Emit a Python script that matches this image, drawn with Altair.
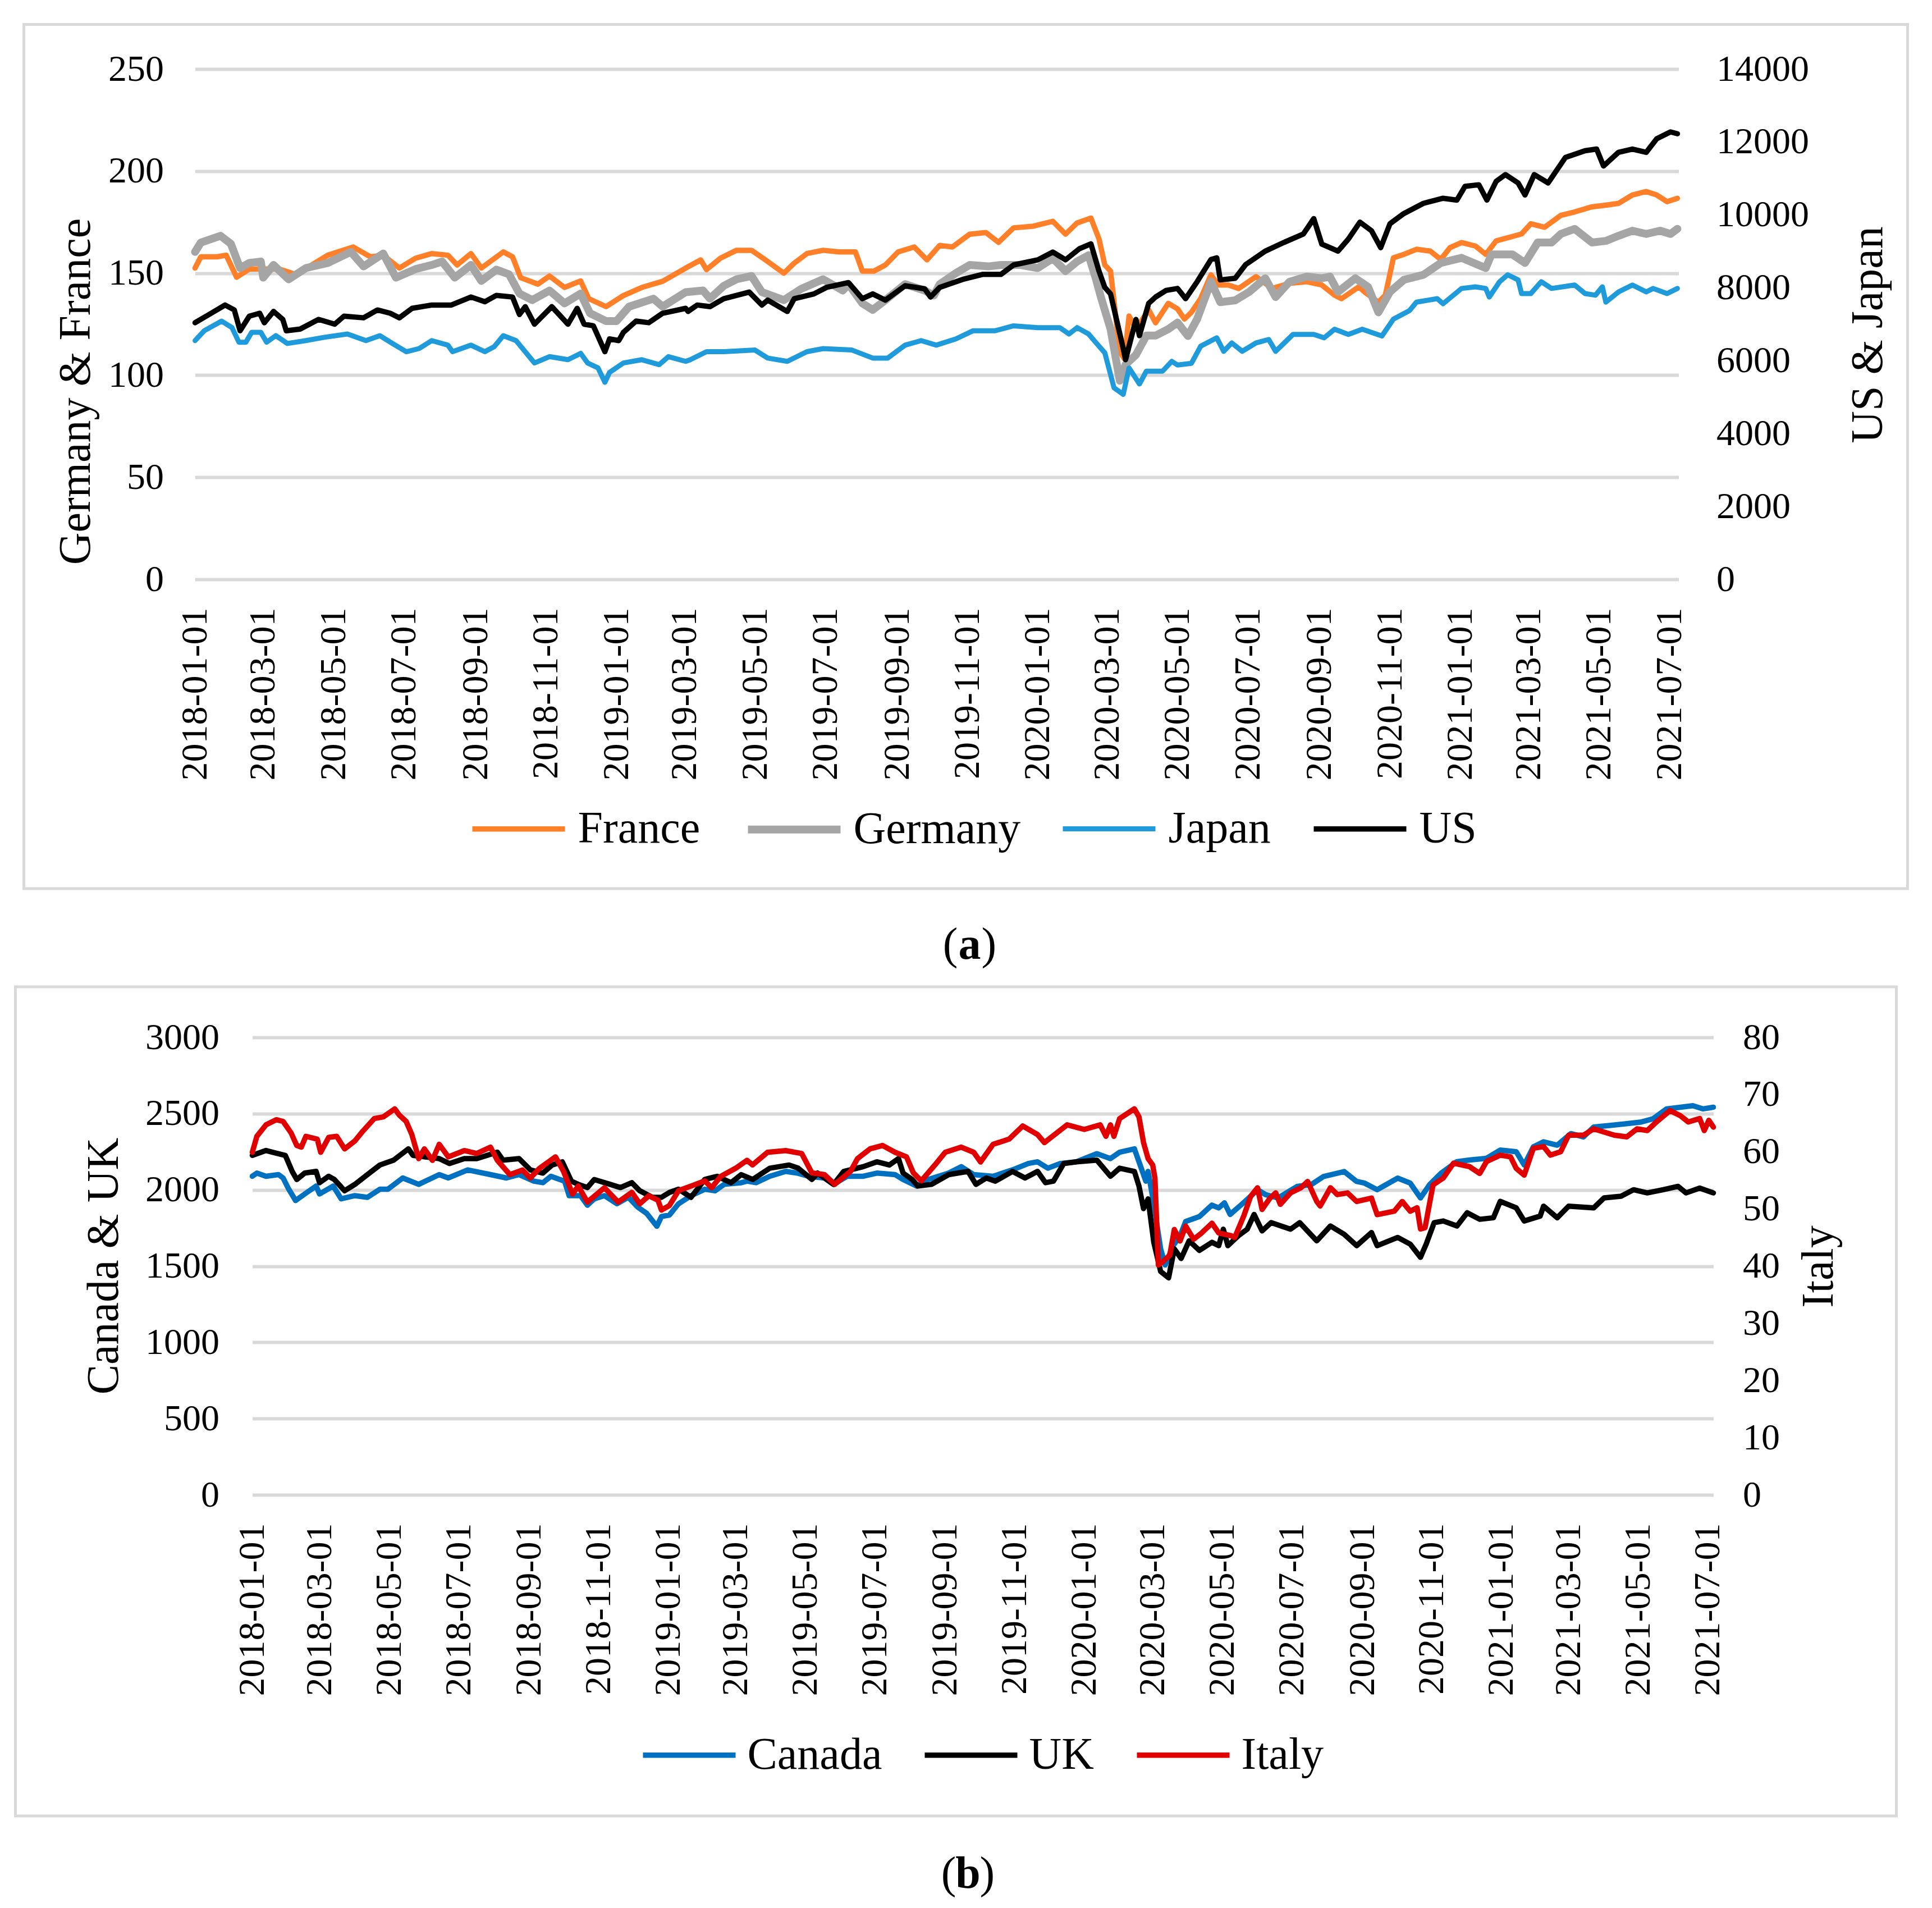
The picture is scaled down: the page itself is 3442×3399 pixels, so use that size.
import altair as alt
import pandas as pd

FONT = "Liberation Serif"

# ---------------- Panel (a) data ----------------
FRANCE = [("2018-01-01",152.5),("2018-01-06",158),("2018-01-20",158),("2018-01-28",158.8),("2018-02-06",148),("2018-02-17",152),("2018-03-01",152),("2018-03-15",152),("2018-03-29",149.4),("2018-04-12",154),("2018-04-26",158.8),("2018-05-18",162.8),("2018-06-02",158),("2018-06-13",158.8),("2018-06-27",152.5),("2018-07-11",157.3),("2018-07-25",159.6),("2018-08-08",158.8),("2018-08-16",154),("2018-08-28",159.6),("2018-09-06",152.5),("2018-09-25",160.4),("2018-10-03",158),("2018-10-10",147.8),("2018-10-25",144.6),("2018-11-04",148.6),("2018-11-17",143),("2018-12-01",146.2),("2018-12-08",137.5),("2018-12-23",133.6),("2019-01-07",139),("2019-01-23",143),("2019-02-10",146),("2019-03-02",152.5),("2019-03-15",156.5),("2019-03-20",151.7),("2019-04-01",157.3),("2019-04-15",161.2),("2019-04-28",161.2),("2019-05-10",156.5),("2019-05-26",150),("2019-06-04",154.9),("2019-06-15",159.6),("2019-06-29",161.2),("2019-07-13",160.4),("2019-07-27",160.4),("2019-08-02",151),("2019-08-12",151),("2019-08-22",154),("2019-09-02",160.4),("2019-09-16",162.8),("2019-09-27",156.5),("2019-10-08",163.6),("2019-10-19",162.8),("2019-11-03",169.1),("2019-11-17",169.9),("2019-11-28",165.1),("2019-12-11",172.2),("2019-12-28",173),("2020-01-14",175.4),("2020-01-25",169.1),("2020-02-04",174.6),("2020-02-16",177),("2020-02-23",166.7),("2020-02-28",154),("2020-03-04",151),("2020-03-12",111.5),("2020-03-16",108),("2020-03-20",129),("2020-03-26",122.6),("2020-04-06",132),("2020-04-12",125.7),("2020-04-23",135.2),("2020-05-01",132.5),("2020-05-07",127.5),("2020-05-13",130.8),("2020-05-21",137.5),("2020-05-30",149.2),("2020-06-05",144.2),("2020-06-14",144.2),("2020-06-23",142.5),("2020-07-08",148.3),("2020-07-22",142.5),("2020-08-06",145),("2020-08-21",145.8),("2020-09-03",144.2),("2020-09-14",139.2),("2020-09-20",137.5),("2020-10-05",143.3),("2020-10-10",140.8),("2020-10-22",135.8),("2020-10-28",139.2),("2020-11-04",157.5),("2020-11-13",159.2),("2020-11-24",161.7),("2020-12-06",160.8),("2020-12-15",156.7),("2020-12-23",162.5),("2021-01-02",165),("2021-01-14",163.3),("2021-01-23",159.2),("2021-02-01",165.8),("2021-02-12",167.5),("2021-02-23",169.2),("2021-03-03",174.2),("2021-03-15",172.5),("2021-03-29",178.3),("2021-04-10",180),("2021-04-25",182.5),("2021-05-07",183.3),("2021-05-18",184.2),("2021-05-30",188.3),("2021-06-11",190),("2021-06-20",188.3),("2021-06-29",185),("2021-07-08",186.7)]

GERMANY = [("2018-01-01",160.4),("2018-01-06",165),("2018-01-23",168.3),("2018-02-01",164.4),("2018-02-09",152.5),("2018-02-17",155),("2018-02-27",155.7),("2018-03-01",147.8),("2018-03-10",154),("2018-03-23",147),("2018-04-07",152.5),("2018-04-26",155),("2018-05-16",160.4),("2018-05-27",153.3),("2018-06-13",159.6),("2018-06-24",147.8),("2018-07-11",152),("2018-07-25",154),("2018-08-03",155.7),("2018-08-14",147.8),("2018-08-28",154),("2018-09-06",146.2),("2018-09-19",151.7),("2018-09-30",149.4),("2018-10-09",140),("2018-10-20",136.8),("2018-11-04",141.5),("2018-11-17",135.2),("2018-12-01",140),("2018-12-09",130.4),("2018-12-23",126.5),("2019-01-01",126.5),("2019-01-12",133.6),("2019-02-02",137.5),("2019-02-10",133.6),("2019-03-02",140.7),("2019-03-17",141.5),("2019-03-23",137.5),("2019-04-04",143.8),("2019-04-15",147),("2019-04-28",148.6),("2019-05-07",140.7),("2019-05-26",136.8),("2019-06-10",142.3),("2019-06-29",147),("2019-07-16",141.5),("2019-07-21",144.6),("2019-08-02",135.2),("2019-08-11",132),("2019-08-22",136.8),("2019-09-08",144.6),("2019-09-25",141.5),("2019-10-03",139.1),("2019-10-08",144.6),("2019-10-22",150),("2019-11-03",154),("2019-11-19",153.3),("2019-11-30",154),("2019-12-17",154),("2020-01-01",152.5),("2020-01-14",157.3),("2020-01-25",151),("2020-02-04",155.7),("2020-02-14",158.8),("2020-02-20",147.8),("2020-02-25",137.5),("2020-03-04",122.6),("2020-03-12",97.3),("2020-03-17",105.2),("2020-03-26",110),("2020-04-04",119.4),("2020-04-12",119.4),("2020-04-23",122.6),("2020-05-01",125.8),("2020-05-10",119.2),("2020-05-18",127.5),("2020-05-30",145.8),("2020-06-07",135.8),("2020-06-20",136.7),("2020-07-02",140.8),("2020-07-16",147.5),("2020-07-25",138.3),("2020-08-06",145.8),("2020-08-21",148.3),("2020-09-03",147.5),("2020-09-10",148.3),("2020-09-17",140.8),("2020-10-02",147.5),("2020-10-13",143.3),("2020-10-22",130.8),("2020-11-01",140.8),("2020-11-13",146.7),("2020-11-30",149.2),("2020-12-15",155),("2021-01-02",157.5),("2021-01-23",152.5),("2021-01-28",159.2),("2021-02-15",159.2),("2021-02-26",155),("2021-03-09",165),("2021-03-21",165),("2021-03-29",169.2),("2021-04-10",171.7),("2021-04-25",165),("2021-05-07",165.8),("2021-05-18",168.3),("2021-05-30",170.8),("2021-06-11",169.2),("2021-06-23",170.8),("2021-07-02",169.2),("2021-07-08",171.7)]

JAPAN = [("2018-01-01",6550),("2018-01-09",6820),("2018-01-24",7085),("2018-02-02",6905),("2018-02-08",6505),("2018-02-14",6505),("2018-02-19",6775),("2018-02-27",6775),("2018-03-04",6505),("2018-03-12",6685),("2018-03-22",6470),("2018-04-07",6550),("2018-04-23",6640),("2018-05-13",6730),("2018-05-29",6550),("2018-06-10",6685),("2018-06-21",6470),("2018-07-03",6245),("2018-07-14",6330),("2018-07-25",6550),("2018-08-08",6425),("2018-08-12",6245),("2018-08-28",6425),("2018-09-09",6245),("2018-09-17",6380),("2018-09-25",6685),("2018-10-06",6550),("2018-10-14",6245),("2018-10-22",5935),("2018-11-04",6110),("2018-11-20",6025),("2018-12-01",6200),("2018-12-07",5935),("2018-12-16",5800),("2018-12-22",5405),("2018-12-26",5675),("2019-01-07",5935),("2019-01-23",6025),("2019-02-07",5890),("2019-02-15",6110),("2019-03-02",5980),("2019-03-06",6025),("2019-03-20",6245),("2019-04-04",6245),("2019-05-01",6290),("2019-05-12",6070),("2019-05-29",5980),("2019-06-15",6245),("2019-06-29",6330),("2019-07-24",6290),("2019-08-11",6070),("2019-08-24",6070),("2019-09-08",6425),("2019-09-22",6550),("2019-10-05",6425),("2019-10-22",6595),("2019-11-06",6820),("2019-11-25",6820),("2019-12-11",6955),("2020-01-01",6905),("2020-01-20",6905),("2020-01-28",6730),("2020-02-04",6905),("2020-02-14",6730),("2020-02-20",6505),("2020-02-28",6215),("2020-03-07",5255),("2020-03-15",5075),("2020-03-20",5800),("2020-03-29",5360),("2020-04-04",5710),("2020-04-18",5710),("2020-04-26",5980),("2020-05-01",5880),("2020-05-13",5925),("2020-05-21",6395),("2020-06-04",6625),("2020-06-10",6255),("2020-06-17",6485),("2020-06-26",6255),("2020-07-08",6485),("2020-07-19",6580),("2020-07-25",6255),("2020-08-09",6720),("2020-08-27",6720),("2020-09-05",6625),("2020-09-14",6860),("2020-09-26",6720),("2020-10-08",6860),("2020-10-25",6675),("2020-11-04",7140),("2020-11-18",7375),("2020-11-24",7605),("2020-12-12",7700),("2020-12-17",7560),("2021-01-02",7980),("2021-01-14",8025),("2021-01-23",7980),("2021-01-26",7745),("2021-02-04",8165),("2021-02-11",8355),("2021-02-20",8215),("2021-02-23",7840),("2021-03-03",7840),("2021-03-12",8165),("2021-03-21",7980),("2021-04-10",8075),("2021-04-19",7840),("2021-04-28",7795),("2021-05-04",8025),("2021-05-07",7605),("2021-05-18",7885),("2021-05-30",8075),("2021-06-11",7885),("2021-06-17",7980),("2021-06-29",7840),("2021-07-08",7980)]

US = [("2018-01-01",7040),("2018-01-15",7300),("2018-01-27",7525),("2018-02-04",7390),("2018-02-09",6820),("2018-02-17",7220),("2018-02-26",7300),("2018-03-02",7040),("2018-03-10",7350),("2018-03-18",7130),("2018-03-21",6820),("2018-04-02",6865),("2018-04-18",7130),("2018-05-02",7000),("2018-05-10",7220),("2018-05-27",7175),("2018-06-08",7390),("2018-06-19",7300),("2018-06-27",7175),("2018-07-08",7435),("2018-07-25",7525),("2018-08-11",7525),("2018-08-28",7745),("2018-09-09",7615),("2018-09-19",7790),("2018-10-03",7745),("2018-10-09",7265),("2018-10-14",7480),("2018-10-22",7000),("2018-11-06",7480),("2018-11-20",7000),("2018-11-28",7435),("2018-12-04",7000),("2018-12-12",6955),("2018-12-22",6245),("2018-12-26",6595),("2019-01-03",6550),("2019-01-07",6775),("2019-01-18",7085),("2019-01-29",7040),("2019-02-10",7300),("2019-03-02",7435),("2019-03-04",7350),("2019-03-12",7525),("2019-03-23",7480),("2019-04-04",7700),("2019-04-26",7880),("2019-05-07",7525),("2019-05-12",7660),("2019-05-29",7350),("2019-06-04",7700),("2019-06-21",7830),("2019-07-02",8010),("2019-07-21",8140),("2019-08-02",7700),("2019-08-11",7830),("2019-08-22",7660),("2019-09-08",8055),("2019-09-25",7970),("2019-09-30",7745),("2019-10-08",8010),("2019-10-28",8230),("2019-11-14",8365),("2019-11-30",8365),("2019-12-11",8625),("2020-01-01",8765),("2020-01-14",8980),("2020-01-25",8765),("2020-02-06",9070),("2020-02-16",9205),("2020-02-23",8455),("2020-02-28",8010),("2020-03-04",7830),("2020-03-15",6330),("2020-03-17",6025),("2020-03-26",7130),("2020-03-29",6685),("2020-04-06",7570),("2020-04-12",7745),("2020-04-21",7925),("2020-05-01",7980),("2020-05-08",7700),("2020-05-18",8165),("2020-05-30",8775),("2020-06-04",8820),("2020-06-07",8215),("2020-06-20",8260),("2020-06-29",8635),("2020-07-16",9005),("2020-08-01",9240),("2020-08-18",9475),("2020-08-27",9895),("2020-09-03",9195),("2020-09-17",9005),("2020-09-26",9335),("2020-10-06",9800),("2020-10-16",9565),("2020-10-24",9100),("2020-11-01",9755),("2020-11-13",10035),("2020-11-30",10315),("2020-12-17",10455),("2020-12-29",10405),("2021-01-05",10780),("2021-01-17",10825),("2021-01-24",10405),("2021-02-01",10920),("2021-02-09",11105),("2021-02-20",10875),("2021-02-26",10545),("2021-03-06",11105),("2021-03-18",10875),("2021-04-02",11575),("2021-04-19",11760),("2021-04-29",11805),("2021-05-05",11340),("2021-05-18",11715),("2021-05-30",11805),("2021-06-11",11715),("2021-06-20",12085),("2021-07-02",12275),("2021-07-08",12225)]

# ---------------- Panel (b) data ----------------
CANADA = [("2018-01-01",2089),("2018-01-05",2110),("2018-01-13",2089),("2018-01-24",2100),("2018-01-28",2078),("2018-02-02",2004),("2018-02-08",1930),("2018-02-16",1973),("2018-02-26",2025),("2018-03-01",1973),("2018-03-13",2025),("2018-03-20",1941),("2018-04-01",1962),("2018-04-12",1951),("2018-04-23",2004),("2018-04-30",2004),("2018-05-13",2078),("2018-05-27",2036),("2018-06-14",2100),("2018-06-22",2078),("2018-07-09",2131),("2018-07-29",2100),("2018-08-12",2078),("2018-08-23",2100),("2018-09-05",2057),("2018-09-13",2047),("2018-09-20",2089),("2018-10-02",2057),("2018-10-06",1962),("2018-10-16",1962),("2018-10-22",1899),("2018-10-28",1941),("2018-11-06",1962),("2018-11-17",1909),("2018-11-27",1951),("2018-12-05",1888),("2018-12-13",1846),("2018-12-22",1761),("2018-12-26",1825),("2019-01-02",1835),("2019-01-10",1909),("2019-01-21",1962),("2019-02-02",2004),("2019-02-11",1994),("2019-02-19",2036),("2019-03-06",2047),("2019-03-11",2057),("2019-03-19",2047),("2019-03-31",2089),("2019-04-14",2121),("2019-04-24",2110),("2019-05-04",2089),("2019-05-18",2078),("2019-05-26",2036),("2019-06-07",2089),("2019-06-21",2089),("2019-07-03",2110),("2019-07-19",2100),("2019-07-26",2068),("2019-08-07",2025),("2019-08-17",2068),("2019-09-04",2110),("2019-09-15",2152),("2019-09-26",2100),("2019-10-13",2089),("2019-10-30",2131),("2019-11-13",2173),("2019-11-21",2184),("2019-11-30",2142),("2019-12-11",2173),("2019-12-25",2184),("2020-01-12",2237),("2020-01-24",2205),("2020-02-01",2247),("2020-02-14",2269),("2020-02-19",2163),("2020-02-24",2057),("2020-02-26",2121),("2020-03-02",1909),("2020-03-08",1613),("2020-03-12",1508),("2020-03-19",1634),("2020-03-25",1698),("2020-03-30",1793),("2020-04-11",1825),("2020-04-22",1900),("2020-04-28",1882),("2020-05-03",1915),("2020-05-08",1839),("2020-05-18",1904),("2020-05-26",1958),("2020-06-01",2001),("2020-06-08",1969),("2020-06-19",1947),("2020-07-06",2023),("2020-07-18",2034),("2020-07-29",2088),("2020-08-16",2120),("2020-08-27",2055),("2020-09-03",2044),("2020-09-14",2001),("2020-10-02",2077),("2020-10-13",2044),("2020-10-22",1947),("2020-10-30",2034),("2020-11-09",2109),("2020-11-23",2185),("2020-12-04",2196),("2020-12-19",2207),("2020-12-31",2261),("2021-01-14",2250),("2021-01-21",2163),("2021-01-29",2282),("2021-02-07",2315),("2021-02-19",2293),("2021-03-03",2369),("2021-03-14",2347),("2021-03-23",2412),("2021-04-07",2423),("2021-04-21",2434),("2021-05-03",2444),("2021-05-14",2466),("2021-05-26",2531),("2021-06-07",2542),("2021-06-18",2552),("2021-06-27",2531),("2021-07-06",2542)]

UK = [("2018-01-01",2226),("2018-01-13",2258),("2018-01-24",2237),("2018-01-30",2226),("2018-02-05",2121),("2018-02-09",2068),("2018-02-16",2110),("2018-02-26",2121),("2018-03-01",2047),("2018-03-09",2089),("2018-03-14",2068),("2018-03-23",1994),("2018-04-01",2036),("2018-04-12",2100),("2018-04-23",2163),("2018-05-05",2195),("2018-05-18",2269),("2018-05-22",2226),("2018-06-02",2216),("2018-06-14",2205),("2018-06-23",2173),("2018-07-06",2205),("2018-07-17",2205),("2018-08-04",2247),("2018-08-09",2195),("2018-08-23",2205),("2018-09-02",2131),("2018-09-13",2110),("2018-09-21",2163),("2018-09-30",2184),("2018-10-08",2057),("2018-10-14",2036),("2018-10-22",2015),("2018-10-28",2068),("2018-11-11",2036),("2018-11-20",2015),("2018-11-30",2047),("2018-12-07",1994),("2018-12-18",1951),("2018-12-26",1951),("2019-01-02",1983),("2019-01-10",2004),("2019-01-21",1951),("2019-02-02",2068),("2019-02-13",2089),("2019-02-25",2047),("2019-03-06",2100),("2019-03-16",2068),("2019-03-31",2142),("2019-04-17",2163),("2019-04-25",2142),("2019-05-07",2068),("2019-05-12",2110),("2019-05-26",2036),("2019-06-04",2121),("2019-06-21",2152),("2019-07-03",2184),("2019-07-14",2163),("2019-07-22",2205),("2019-07-26",2110),("2019-08-03",2068),("2019-08-08",2025),("2019-08-20",2036),("2019-09-04",2100),("2019-09-21",2121),("2019-09-28",2036),("2019-10-07",2078),("2019-10-15",2057),("2019-10-30",2121),("2019-11-10",2078),("2019-11-21",2121),("2019-11-28",2047),("2019-12-05",2057),("2019-12-14",2173),("2019-12-25",2184),("2020-01-12",2195),("2020-01-24",2089),("2020-02-01",2142),("2020-02-14",2121),("2020-02-18",2025),("2020-02-22",1877),("2020-02-26",1941),("2020-03-02",1656),("2020-03-08",1465),("2020-03-15",1423),("2020-03-20",1613),("2020-03-26",1550),("2020-04-02",1666),("2020-04-11",1603),("2020-04-22",1656),("2020-04-28",1634),("2020-05-02",1742),("2020-05-06",1634),("2020-05-15",1698),("2020-05-23",1742),("2020-05-29",1839),("2020-06-05",1731),("2020-06-13",1785),("2020-06-30",1742),("2020-07-08",1785),("2020-07-23",1666),("2020-08-04",1763),("2020-08-16",1709),("2020-08-27",1634),("2020-09-09",1720),("2020-09-14",1634),("2020-10-02",1688),("2020-10-13",1644),("2020-10-22",1558),("2020-10-27",1644),("2020-11-03",1785),("2020-11-11",1796),("2020-11-23",1763),("2020-12-02",1850),("2020-12-13",1807),("2020-12-25",1817),("2020-12-31",1925),("2021-01-14",1882),("2021-01-21",1796),("2021-02-04",1828),("2021-02-07",1893),("2021-02-19",1817),("2021-03-01",1893),("2021-03-23",1882),("2021-04-01",1947),("2021-04-16",1958),("2021-04-27",2001),("2021-05-09",1980),("2021-05-23",2001),("2021-06-05",2023),("2021-06-12",1980),("2021-06-24",2012),("2021-07-06",1980)]

ITALY = [("2018-01-01",59.9),("2018-01-05",62.7),("2018-01-13",64.7),("2018-01-22",65.6),("2018-01-28",65.3),("2018-02-04",63.3),("2018-02-09",61.1),("2018-02-13",60.8),("2018-02-17",62.7),("2018-02-27",62.2),("2018-03-02",59.9),("2018-03-09",62.5),("2018-03-16",62.7),("2018-03-23",60.5),("2018-04-01",61.9),("2018-04-08",63.6),("2018-04-18",65.8),("2018-04-26",66.1),("2018-05-06",67.5),("2018-05-10",66.4),("2018-05-16",65.3),("2018-05-21",63.0),("2018-05-27",58.8),("2018-06-01",60.5),("2018-06-08",58.5),("2018-06-14",61.3),("2018-06-22",59.1),("2018-07-06",60.2),("2018-07-17",59.7),("2018-07-29",60.8),("2018-08-04",58.5),("2018-08-15",56.0),("2018-08-26",56.8),("2018-09-02",55.4),("2018-09-10",57.1),("2018-09-24",59.1),("2018-10-01",56.6),("2018-10-09",52.6),("2018-10-14",54.0),("2018-10-22",51.2),("2018-11-06",53.7),("2018-11-18",51.2),("2018-11-30",52.9),("2018-12-07",50.9),("2018-12-15",52.3),("2018-12-23",51.5),("2018-12-26",49.8),("2019-01-02",50.6),("2019-01-10",53.2),("2019-01-21",54.0),("2019-02-02",54.9),("2019-02-08",53.7),("2019-02-16",55.7),("2019-03-01",57.1),("2019-03-11",58.5),("2019-03-16",57.7),("2019-03-29",59.9),("2019-04-14",60.2),("2019-04-28",59.7),("2019-05-07",56.3),("2019-05-18",56.0),("2019-05-27",54.3),("2019-06-10",56.6),("2019-06-16",58.8),("2019-06-27",60.5),("2019-07-08",61.1),("2019-07-19",59.9),("2019-07-29",59.1),("2019-08-04",56.3),("2019-08-11",54.9),("2019-08-23",57.7),("2019-09-01",59.9),("2019-09-15",60.8),("2019-09-26",59.9),("2019-10-02",58.2),("2019-10-13",61.3),("2019-10-27",62.2),("2019-11-08",64.5),("2019-11-21",63.0),("2019-11-27",61.6),("2019-12-17",64.7),("2020-01-01",63.9),("2020-01-15",64.7),("2020-01-20",62.7),("2020-01-24",64.7),("2020-01-27",62.7),("2020-02-01",65.8),("2020-02-14",67.5),("2020-02-18",66.1),("2020-02-22",61.6),("2020-02-26",58.8),("2020-03-01",57.7),("2020-03-03",55.4),("2020-03-06",40.2),("2020-03-10",40.8),("2020-03-16",41.9),("2020-03-20",46.4),("2020-03-25",44.4),("2020-03-30",47.0),("2020-04-06",44.7),("2020-04-13",45.8),("2020-04-22",47.5),("2020-04-28",45.8),("2020-05-09",45.3),("2020-05-12",45.0),("2020-05-20",48.8),("2020-05-26",52.2),("2020-06-01",53.7),("2020-06-05",49.9),("2020-06-12",51.9),("2020-06-17",52.8),("2020-06-21",50.8),("2020-06-30",52.8),("2020-07-09",53.7),("2020-07-15",54.8),("2020-07-23",51.3),("2020-07-26",50.5),("2020-08-04",53.7),("2020-08-10",52.5),("2020-08-19",52.8),("2020-08-27",51.3),("2020-09-09",51.9),("2020-09-14",49.0),("2020-09-29",49.6),("2020-10-06",51.3),("2020-10-13",49.6),("2020-10-19",50.2),("2020-10-22",46.5),("2020-10-26",46.7),("2020-11-02",54.2),("2020-11-11",55.4),("2020-11-20",58.0),("2020-12-04",57.4),("2020-12-13",56.2),("2020-12-19",58.3),("2020-12-31",59.4),("2021-01-09",59.1),("2021-01-14",57.1),("2021-01-21",55.9),("2021-01-29",60.6),("2021-02-07",60.9),("2021-02-13",59.4),("2021-02-22",60.0),("2021-03-01",62.9),("2021-03-14",62.9),("2021-03-23",64.0),("2021-04-10",62.9),("2021-04-21",62.6),("2021-04-30",64.0),("2021-05-09",63.7),("2021-05-17",65.2),("2021-05-29",67.2),("2021-06-07",66.3),("2021-06-14",65.2),("2021-06-24",65.8),("2021-06-28",63.7),("2021-07-02",65.5),("2021-07-06",64.3)]

# ---------------- axes / labels ----------------
X_TICKS = ["2018-01-01","2018-03-01","2018-05-01","2018-07-01","2018-09-01","2018-11-01",
           "2019-01-01","2019-03-01","2019-05-01","2019-07-01","2019-09-01","2019-11-01",
           "2020-01-01","2020-03-01","2020-05-01","2020-07-01","2020-09-01","2020-11-01",
           "2021-01-01","2021-03-01","2021-05-01","2021-07-01"]
A_LEFT_TICKS = [0, 50, 100, 150, 200, 250]
A_RIGHT_TICKS = [0, 2000, 4000, 6000, 8000, 10000, 12000, 14000]
B_LEFT_TICKS = [0, 500, 1000, 1500, 2000, 2500, 3000]
B_RIGHT_TICKS = [0, 10, 20, 30, 40, 50, 60, 70, 80]

A_SERIES = ["France", "Germany", "Japan", "US"]
A_COLORS = ["#FF8028", "#A5A5A5", "#1F9BDB", "#000000"]
A_WIDTHS = [9.5, 14, 9, 9.5]
B_SERIES = ["Canada", "UK", "Italy"]
B_COLORS = ["#0070C0", "#000000", "#E00000"]
B_WIDTHS = [9.5, 9.5, 9.5]

GRID = "#D9D9D9"


def ms(s):
    return int(pd.Timestamp(s, tz="UTC").timestamp() * 1000)


TICK_MS = [ms(s) for s in X_TICKS]


def long_df(pairs_by_name):
    rows = []
    for name, pairs in pairs_by_name:
        for d, v in pairs:
            rows.append({"date": d, "value": v, "series": name})
    return pd.DataFrame(rows)


def x_enc(end):
    return alt.X(
        "date:T",
        scale=alt.Scale(type="utc", domain=[ms("2018-01-01"), ms(end)]),
        axis=alt.Axis(
            title=None, values=TICK_MS, format="%Y-%m-%d", labelAngle=270,
            labelPadding=50, labelFontSize=66, labelOverlap=False, labelBound=False,
            labelLimit=0, domain=False, ticks=False, grid=False,
        ),
    )


def make_legend(lx, ly, ncol, colpad):
    return alt.Legend(
        title=None, orient="none", legendX=lx, legendY=ly, direction="horizontal",
        columns=ncol, symbolType="stroke", symbolSize=27225, symbolStrokeWidth=9,
        labelFont=FONT, labelFontSize=80, labelOffset=16, columnPadding=colpad,
        labelLimit=0, padding=0,
    )


def one_row():
    return pd.DataFrame({"k": [0]})


def frame_layer(x1, x2, y1, y2):
    return alt.Chart(one_row()).mark_rect(
        filled=False, stroke=GRID, strokeWidth=5
    ).encode(x=alt.value(x1), x2=alt.value(x2), y=alt.value(y1), y2=alt.value(y2))


def caption_layers(cx, cy, letter):
    base = alt.Chart(one_row())
    kw = dict(font=FONT, fontSize=80, baseline="middle", color="black")
    return [
        base.mark_text(text="(", align="right", **kw).encode(x=alt.value(cx - 21), y=alt.value(cy)),
        base.mark_text(text=letter, align="center", fontWeight="bold", **kw).encode(x=alt.value(cx), y=alt.value(cy)),
        base.mark_text(text=")", align="left", **kw).encode(x=alt.value(cx + 21), y=alt.value(cy)),
    ]


def line_layer(df, series, colors, widths, legend, end, yscale, yaxis):
    return alt.Chart(df).mark_line(strokeJoin="round", strokeCap="round").encode(
        x=x_enc(end),
        y=alt.Y("value:Q", scale=yscale, axis=yaxis),
        color=alt.Color("series:N", scale=alt.Scale(domain=series, range=colors), legend=legend),
        strokeWidth=alt.StrokeWidth("series:N", scale=alt.Scale(type="ordinal", domain=series, range=widths), legend=legend),
        detail="series:N",
    )


# ---------------- Panel (a) ----------------
A_W, A_H = 2643, 909
A_END = "2021-07-09"
leg_a = make_legend(487, 1265, 4, 57)

a_left = line_layer(
    long_df([("France", FRANCE), ("Germany", GERMANY)]), A_SERIES, A_COLORS, A_WIDTHS, leg_a, A_END,
    alt.Scale(domain=[0, 250], nice=False),
    alt.Axis(title="Germany & France", values=A_LEFT_TICKS, format="d", grid=True, gridColor=GRID, gridWidth=6,
             domain=False, ticks=False, labelPadding=56, labelFontSize=66, labelLimit=0,
             titleFontSize=80, titleAngle=270, titleX=-212, titleY=574,
             titleAlign="center", titleBaseline="middle"),
)
a_right = line_layer(
    long_df([("Japan", JAPAN), ("US", US)]), A_SERIES, A_COLORS, A_WIDTHS, leg_a, A_END,
    alt.Scale(domain=[0, 14000], nice=False),
    alt.Axis(title="US & Japan", orient="right", values=A_RIGHT_TICKS, format="d", grid=False,
             domain=False, ticks=False, labelPadding=67, labelFontSize=66, labelLimit=0,
             titleFontSize=80, titleAngle=270, titleX=338, titleY=473,
             titleAlign="center", titleBaseline="middle"),
)
panel_a = alt.layer(
    frame_layer(-305, 3051, -79.5, 1460), a_left, a_right, *caption_layers(1380, 1561, "a")
).resolve_scale(y="independent").properties(width=A_W, height=A_H)

# ---------------- Panel (b) ----------------
B_W, B_H = 2603, 815
B_END = "2021-07-06"
B_SHIFT = 102  # horizontal offset of panel (b) plot relative to panel (a) plot
leg_b = make_legend(691 + B_SHIFT, 1191, 3, 57)

b_left = line_layer(
    long_df([("Canada", CANADA), ("UK", UK)]), B_SERIES, B_COLORS, B_WIDTHS, leg_b, B_END,
    alt.Scale(domain=[0, 3000], nice=False),
    alt.Axis(title="Canada & UK", values=B_LEFT_TICKS, format="d", grid=True, gridColor=GRID, gridWidth=6,
             domain=False, ticks=False, labelPadding=59, labelFontSize=66, labelLimit=0,
             titleFontSize=80, titleAngle=270, titleX=-264, titleY=407,
             titleAlign="center", titleBaseline="middle"),
)
b_right = line_layer(
    long_df([("Italy", ITALY)]), B_SERIES, B_COLORS, B_WIDTHS, leg_b, B_END,
    alt.Scale(domain=[0, 80], nice=False),
    alt.Axis(title="Italy", orient="right", values=B_RIGHT_TICKS, format="d", grid=False,
             domain=False, ticks=False, labelPadding=52, labelFontSize=66, labelLimit=0,
             titleFontSize=80, titleAngle=270, titleX=188, titleY=408,
             titleAlign="center", titleBaseline="middle"),
)
panel_b = alt.layer(
    frame_layer(-422, 2929, -90, 1387), b_left, b_right, *caption_layers(1275, 1491, "b")
).resolve_scale(y="independent").properties(width=B_W, height=B_H)

spacer = alt.Chart(one_row()).mark_point(opacity=0).encode(
    x=alt.value(0), y=alt.value(0)
).properties(width=B_SHIFT, height=10)

row_b = alt.hconcat(spacer, panel_b, spacing=0, bounds="flush")

chart = alt.vconcat(panel_a, row_b, spacing=816, bounds="flush").resolve_scale(
    color="independent", strokeWidth="independent"
).properties(
    padding={"left": 16.5, "top": 33, "right": 5, "bottom": 5},
    background="white",
).configure_view(stroke=None).configure_axis(
    labelFont=FONT, titleFont=FONT, labelColor="black", titleColor="black",
    titleFontWeight="normal",
).configure_legend(labelFont=FONT, labelColor="black")

chart.save("out.html", embed_options={"renderer": "svg", "actions": False})
